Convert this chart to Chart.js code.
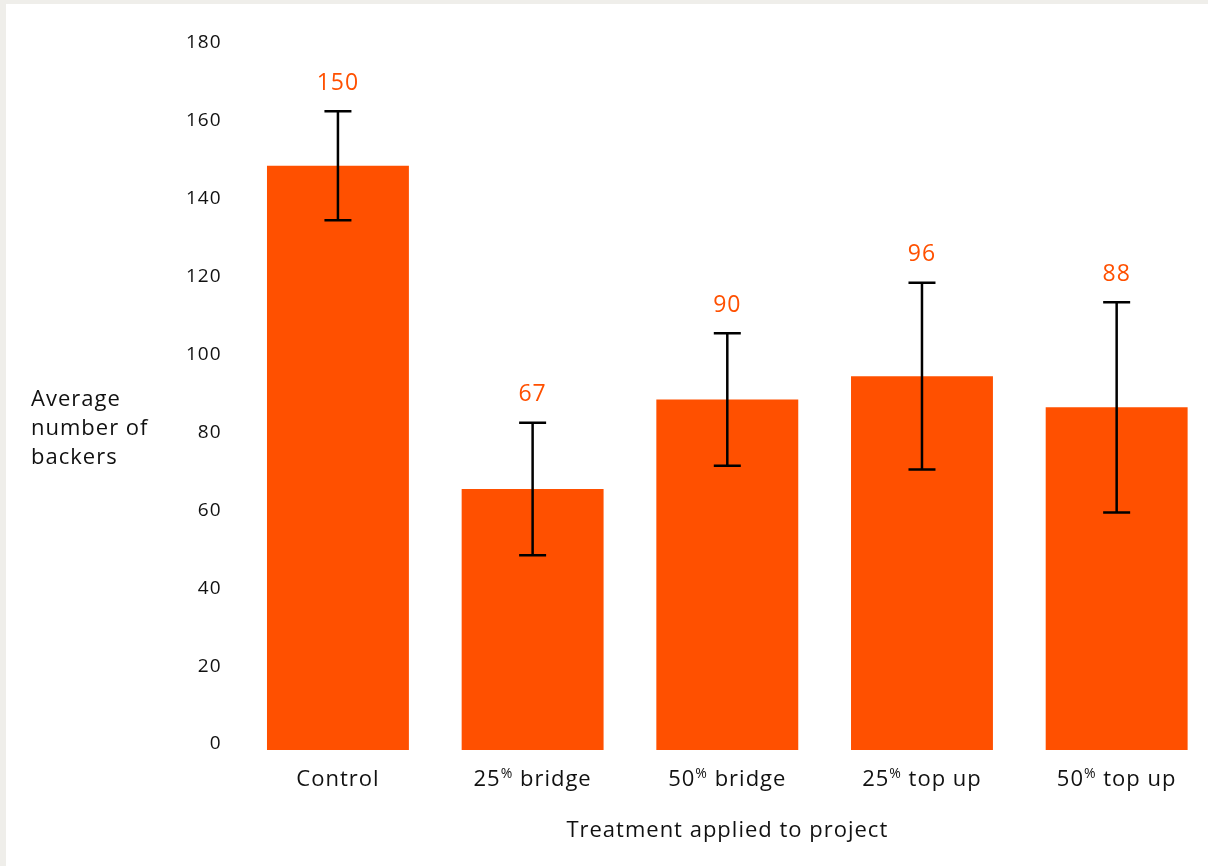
<!DOCTYPE html>
<html>
<head>
<meta charset="utf-8">
<script src="https://cdn.jsdelivr.net/npm/chart.js@4/dist/chart.umd.min.js"></script>
<style>
  html, body { margin: 0; padding: 0; background: #efeeea; overflow: hidden; }
  #wrap { position: absolute; left: 6px; top: 4px; width: 1210px; height: 862px; background: #ffffff; }
</style>
</head>
<body>
<div id="wrap"><canvas id="backersChart"></canvas></div>
<script>
const categories = ["Control", "25% bridge", "50% bridge", "25% top up", "50% top up"];
const averageBackers = [150, 67, 90, 96, 88];
const errorLow = [136, 50, 73, 72, 61];
const errorHigh = [164, 84, 107, 120, 115];
const yTicks = [0, 20, 40, 60, 80, 100, 120, 140, 160, 180];
const yTitleLines = ["Average", "number of", "backers"];
const xTitle = "Treatment applied to project";

const ORANGE = "#ff5000";
const FONT = "'Open Sans', Lato, sans-serif";

// the reference type is wider than anything installed, so open it up a bit
const spacingPlugin = {
  id: "spacing",
  beforeDraw(chart) {
    chart.ctx.letterSpacing = "1px";
  },
};

// error bars + value labels above them
const errorBarPlugin = {
  id: "errorBars",
  afterDatasetsDraw(chart) {
    const ctx = chart.ctx;
    const y = chart.scales.y;
    const meta = chart.getDatasetMeta(0);
    ctx.save();
    ctx.letterSpacing = "1px";
    meta.data.forEach(function (bar, i) {
      const top = y.getPixelForValue(errorHigh[i]);
      const bottom = y.getPixelForValue(errorLow[i]);
      const cap = 13.5;
      ctx.strokeStyle = "#000000";
      ctx.lineWidth = 2.5;
      ctx.beginPath();
      ctx.moveTo(bar.x, top);
      ctx.lineTo(bar.x, bottom);
      ctx.moveTo(bar.x - cap, top);
      ctx.lineTo(bar.x + cap, top);
      ctx.moveTo(bar.x - cap, bottom);
      ctx.lineTo(bar.x + cap, bottom);
      ctx.stroke();

      ctx.fillStyle = ORANGE;
      ctx.font = "23px " + FONT;
      ctx.textAlign = "center";
      ctx.textBaseline = "middle";
      ctx.fillText(String(averageBackers[i]), bar.x, top - 28);
    });
    ctx.restore();
  },
};

// x labels with a raised small "%", plus axis titles
const labelPlugin = {
  id: "axisText",
  afterDraw(chart) {
    const ctx = chart.ctx;
    const x = chart.scales.x;
    const area = chart.chartArea;
    ctx.save();
    ctx.letterSpacing = "1px";
    ctx.fillStyle = "#111111";
    ctx.textBaseline = "middle";
    const bigFont = "22px " + FONT;
    const smallFont = "14px " + FONT;
    categories.forEach(function (label, i) {
      const cx = x.getPixelForTick(i);
      const cy = area.bottom + 30;
      const parts = label.split("%");
      ctx.font = bigFont;
      if (parts.length === 1) {
        ctx.textAlign = "center";
        ctx.fillText(label, cx, cy);
        return;
      }
      const w1 = ctx.measureText(parts[0]).width;
      const w3 = ctx.measureText(parts[1]).width;
      ctx.font = smallFont;
      const w2 = ctx.measureText("%").width;
      let start = cx - (w1 + w2 + w3) / 2;
      ctx.textAlign = "left";
      ctx.font = bigFont;
      ctx.fillText(parts[0], start, cy);
      ctx.font = smallFont;
      ctx.fillText("%", start + w1, cy - 6);
      ctx.font = bigFont;
      ctx.fillText(parts[1], start + w1 + w2, cy);
    });

    ctx.font = bigFont;
    ctx.textAlign = "center";
    ctx.fillText(xTitle, (area.left + area.right) / 2, area.bottom + 81);

    ctx.textAlign = "left";
    yTitleLines.forEach(function (line, i) {
      ctx.fillText(line, 25, 396 + i * 29);
    });
    ctx.restore();
  },
};

const ctx = document.getElementById("backersChart").getContext("2d");
new Chart(ctx, {
  type: "bar",
  data: {
    labels: categories,
    datasets: [
      {
        data: averageBackers,
        backgroundColor: ORANGE,
        borderWidth: 0,
        barPercentage: 0.729,
        categoryPercentage: 1.0,
      },
    ],
  },
  options: {
    responsive: true,
    maintainAspectRatio: false,
    animation: false,
    layout: {
      padding: { top: 45, right: 2, bottom: 0, left: 0 },
    },
    plugins: {
      legend: { display: false },
      tooltip: { enabled: false },
    },
    scales: {
      x: {
        grid: { display: false, drawTicks: false },
        border: { display: false },
        ticks: { display: false },
        afterFit: function (scale) {
          scale.height = 116;
        },
      },
      y: {
        min: 0,
        max: 180,
        grid: { display: false, drawTicks: false },
        border: { display: false },
        afterBuildTicks: function (scale) {
          scale.ticks = yTicks.map((v) => ({ value: v }));
        },
        afterFit: function (scale) {
          scale.width = 234.6;
        },
        ticks: {
          padding: 19,
          labelOffset: -6,
          color: "#111111",
          font: { family: FONT, size: 19 },
        },
      },
    },
  },
  plugins: [spacingPlugin, errorBarPlugin, labelPlugin],
});
</script>
</body>
</html>
